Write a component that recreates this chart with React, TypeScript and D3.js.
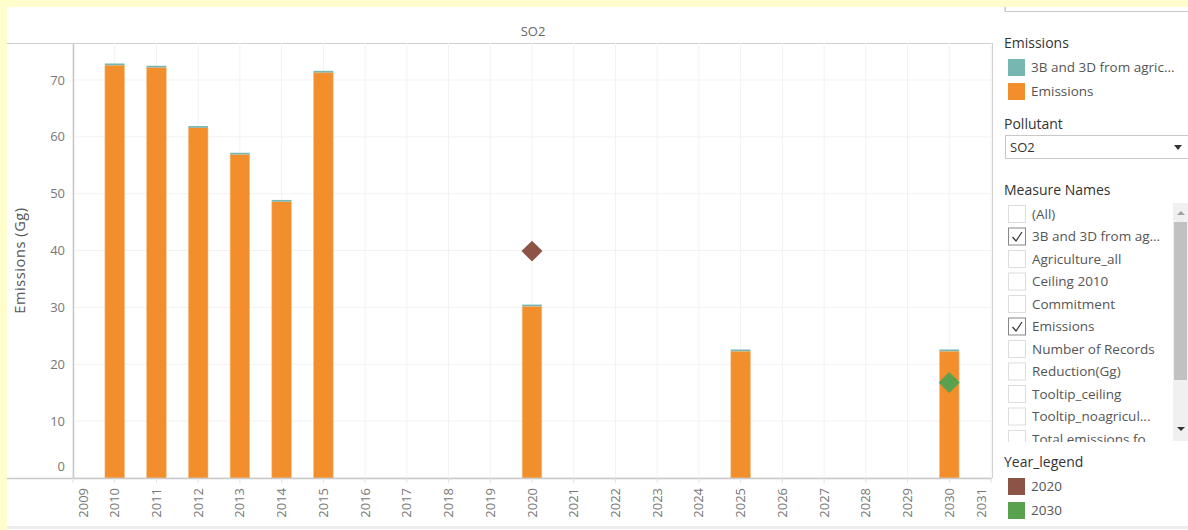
import React from "react";
import * as d3 from "d3";

// bar data (Gg)
const years = [2010, 2011, 2012, 2013, 2014, 2015, 2020, 2025, 2030];
const emissions = [72.6, 72.2, 61.6, 56.9, 48.6, 71.3, 30.2, 22.3, 22.3];
const agri3B3D = [0.3, 0.3, 0.3, 0.3, 0.3, 0.3, 0.3, 0.3, 0.3];

// commitment markers
const targetYears = [2020, 2030];
const targetValues = [39.9, 16.8];
const targetColors = ["#8c5347", "#59a14f"];

const yTicks = [0, 10, 20, 30, 40, 50, 60, 70];
const xTicks = d3.range(2009, 2032);

const measureNames = [
  "(All)",
  "3B and 3D from ag...",
  "Agriculture_all",
  "Ceiling 2010",
  "Commitment",
  "Emissions",
  "Number of Records",
  "Reduction(Gg)",
  "Tooltip_ceiling",
  "Tooltip_noagricul...",
  "Total emissions fo",
];
const measureChecked = [false, true, false, false, false, true, false, false, false, false, false];

const W = 1188;
const H = 530;
const font = "'Open Sans', 'Noto Sans', sans-serif";

export default function App() {
  const left = 73;
  const right = 991;
  const top = 43;
  const bottom = 478;

  const x = d3.scaleLinear().domain([2009, 2031]).range([left, right]);
  const y = d3.scaleLinear().domain([0, 76.5]).range([bottom, top]);
  const barW = (x(2010) - x(2009)) * 0.47;
  const diamond = d3.symbol().type(d3.symbolSquare).size(220)();

  const px = 1004;

  return (
    <svg
      width={W}
      height={H}
      style={{ position: "absolute", left: 0, top: 0, fontFamily: font }}
    >
      <rect x={0} y={0} width={W} height={H} fill="#ffffff" />

      {/* search box on top of the side panel */}
      <rect x={px + 1} y={-10} width={200} height={21} fill="#fff" stroke="#c8c8c8" />
      {/* yellow frame */}
      <rect x={0} y={0} width={W} height={7} fill="#fffdcc" />
      <rect x={0} y={0} width={7} height={H} fill="#fffdcc" />
      <rect x={px + 1} y={7} width={200} height={4} fill="#fff" />
      <line x1={px + 1.5} x2={px + 1.5} y1={7} y2={11} stroke="#c8c8c8" />
      <line x1={px + 1} x2={W} y1={11.5} y2={11.5} stroke="#c8c8c8" />
      <line x1={7} x2={W} y1={527.5} y2={527.5} stroke="#ededed" strokeWidth={3} />

      {/* title */}
      <text x={533} y={36} textAnchor="middle" fontSize={13} fill="#666">
        SO2
      </text>
      <line x1={7} x2={right + 1} y1={top + 0.5} y2={top + 0.5} stroke="#d0d0d0" />

      {/* grid */}
      {yTicks.map((t) => (
        <line key={"gy" + t} x1={left} x2={right} y1={y(t)} y2={y(t)} stroke="#f2f2f2" />
      ))}
      {xTicks.map((t) => (
        <line key={"gx" + t} x1={x(t)} x2={x(t)} y1={top} y2={bottom} stroke="#f2f2f2" />
      ))}

      {/* bars */}
      {years.map((yr, i) => (
        <g key={"b" + yr}>
          <rect
            x={x(yr) - barW / 2}
            y={y(emissions[i])}
            width={barW}
            height={y(0) - y(emissions[i])}
            fill="#f28e2b"
            stroke="#f7c08a"
            strokeWidth={0.6}
          />
          <rect
            x={x(yr) - barW / 2}
            y={y(emissions[i] + agri3B3D[i])}
            width={barW}
            height={y(emissions[i]) - y(emissions[i] + agri3B3D[i])}
            fill="#76b7b2"
          />
        </g>
      ))}

      {/* diamonds */}
      {targetYears.map((yr, i) => (
        <path
          key={"d" + yr}
          d={diamond ?? ""}
          transform={`translate(${x(yr)},${y(targetValues[i])}) rotate(45)`}
          fill={targetColors[i]}
        />
      ))}

      {/* axes */}
      <line x1={left + 0.5} x2={left + 0.5} y1={top} y2={bottom} stroke="#c8c8c8" strokeWidth={1.5} />
      <line x1={7} x2={right + 1} y1={bottom + 0.5} y2={bottom + 0.5} stroke="#c8c8c8" strokeWidth={1.5} />
      <line x1={right + 1.5} x2={right + 1.5} y1={top} y2={bottom} stroke="#d0d0d0" />

      {yTicks.map((t) => (
        <text
          key={"ty" + t}
          x={left - 8}
          y={t === 0 ? y(t) - 12 : y(t)}
          dy="0.35em"
          textAnchor="end"
          fontSize={13}
          fill="#777"
        >
          {t}
        </text>
      ))}
      <text
        transform={`translate(25,${(top + bottom) / 2}) rotate(-90)`}
        textAnchor="middle"
        fontSize={14.5}
        letterSpacing={0.6}
        fill="#555"
      >
        Emissions (Gg)
      </text>

      {xTicks.map((t) => {
        let cx = x(t);
        if (t === 2009) cx = left + 10;
        if (t === 2031) cx = right - 10;
        return (
          <g key={"tx" + t}>
            <line x1={x(t)} x2={x(t)} y1={bottom} y2={bottom + 5} stroke="#e0e0e0" />
            <text
              transform={`translate(${cx},${bottom + 10}) rotate(-90)`}
              dy="0.35em"
              textAnchor="end"
              fontSize={13}
              fill="#777"
            >
              {t}
            </text>
          </g>
        );
      })}

      {/* side panel: Emissions legend */}
      <text x={px} y={48} fontSize={14} fill="#333">
        Emissions
      </text>
      <rect x={px + 4} y={59} width={17} height={17} fill="#76b7b2" />
      <text x={px + 27} y={72} fontSize={13.5} fill="#555">
        3B and 3D from agric...
      </text>
      <rect x={px + 4} y={83} width={17} height={17} fill="#f28e2b" />
      <text x={px + 27} y={96} fontSize={13.5} fill="#555">
        Emissions
      </text>

      {/* Pollutant dropdown */}
      <text x={px} y={129} fontSize={14} fill="#333">
        Pollutant
      </text>
      <rect x={px + 1.5} y={135.5} width={200} height={23} fill="#fff" stroke="#c8c8c8" />
      <text x={px + 6} y={152} fontSize={13} fill="#333">
        SO2
      </text>
      <path d={`M${px + 170},${145} l8,0 l-4,5 z`} fill="#333" />

      {/* Measure Names */}
      <text x={px} y={195} fontSize={14} fill="#333">
        Measure Names
      </text>
      {measureNames.map((m, i) => {
        const cy = 214 + i * 22.5;
        return (
          <g key={"m" + i}>
            <rect
              x={px + 4.5}
              y={cy - 8.5}
              width={17}
              height={17}
              fill="#fff"
              stroke={measureChecked[i] ? "#888" : "#ddd"}
            />
            {measureChecked[i] && (
              <path
                d={`M${px + 8.5},${cy + 0.5} l3.5,4 l6,-9`}
                fill="none"
                stroke="#333"
                strokeWidth={1.2}
              />
            )}
            <text x={px + 28} y={cy} dy="0.35em" fontSize={13.5} fill="#555">
              {m}
            </text>
          </g>
        );
      })}
      <rect x={px} y={442} width={184} height={8} fill="#fff" />
      {/* scrollbar */}
      <rect x={1173} y={203} width={15} height={238} fill="#f0f0f0" />
      <rect x={1174} y={222} width={13} height={158} fill="#c1c1c1" />
      <path d="M1177,215 l4,-4 l4,4 z" fill="#a0a0a0" />
      <path d="M1177,427 l8,0 l-4,4 z" fill="#333" />

      {/* Year legend */}
      <text x={px} y={467} fontSize={14} fill="#333">
        Year_legend
      </text>
      {targetYears.map((yr, i) => (
        <g key={"yl" + yr}>
          <rect x={px + 4} y={478 + i * 24} width={17} height={17} fill={targetColors[i]} />
          <text x={px + 27} y={491 + i * 24} fontSize={13.5} fill="#555">
            {yr}
          </text>
        </g>
      ))}
    </svg>
  );
}
